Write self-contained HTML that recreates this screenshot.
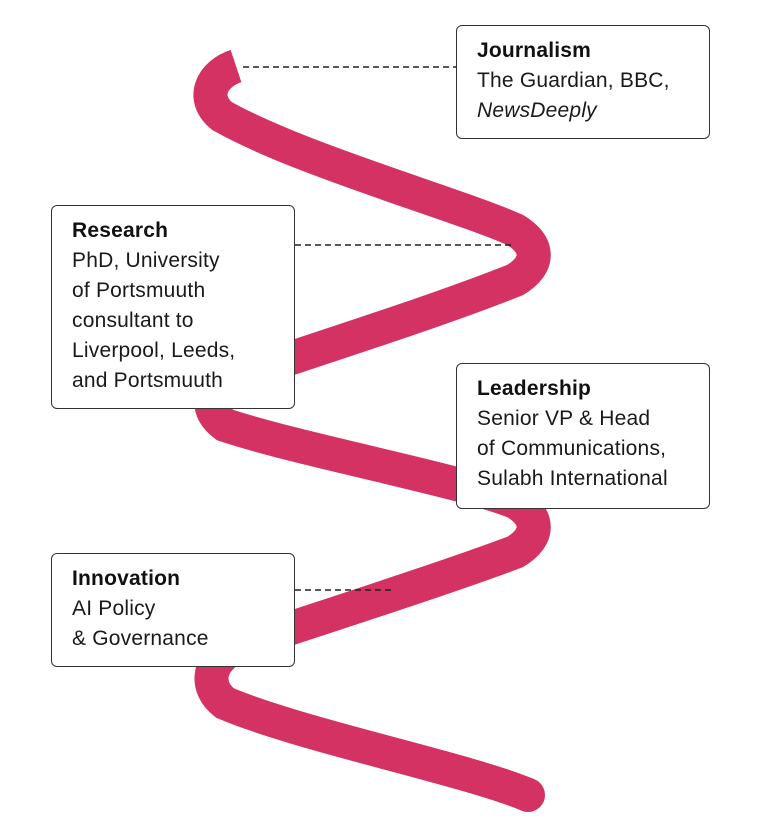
<!DOCTYPE html>
<html><head><meta charset="utf-8"><style>
html,body{margin:0;padding:0;background:#fff;}
body{width:768px;height:832px;position:relative;overflow:hidden;font-family:"Liberation Sans",sans-serif;}
svg{position:absolute;left:0;top:0;}
.box{position:absolute;background:#fff;border:1.5px solid #333;border-radius:6px;box-sizing:border-box;padding:10px 0 0 20px;font-size:21px;line-height:30px;color:#1a1a1a;letter-spacing:0.2px;white-space:nowrap;}
.box b{font-weight:bold;color:#111;}
</style></head><body>
<svg width="768" height="832" viewBox="0 0 768 832">
<path d="M236,66 C212,74 200,98 222,116 C300,160 460,205 515,230 C540,245 540,265 515,280 C440,310 330,345 240,375 C205,390 205,410 225,425 C300,450 460,480 515,502 C540,517 540,537 515,552 C440,580 330,615 240,645 C205,660 205,688 225,703 C300,735 470,770 528,795" fill="none" stroke="#d43263" stroke-width="34" stroke-linecap="butt"/>
<circle cx="528" cy="795" r="17" fill="#d43263"/>
<g stroke="#222" stroke-width="1.6" stroke-dasharray="6,4">
<line x1="243" y1="67" x2="456" y2="67"/>
<line x1="295" y1="245" x2="515" y2="245"/>
<line x1="295" y1="590" x2="395" y2="590"/>
</g>
</svg>
<div class="box" style="left:456px;top:25px;width:254px;height:114px;"><b>Journalism</b><br>The Guardian, BBC,<br><i>NewsDeeply</i></div>
<div class="box" style="left:51px;top:205px;width:244px;height:204px;"><b>Research</b><br>PhD, University<br>of Portsmuuth<br>consultant to<br>Liverpool, Leeds,<br>and Portsmuuth</div>
<div class="box" style="left:456px;top:363px;width:254px;height:146px;"><b>Leadership</b><br>Senior VP &amp; Head<br>of Communications,<br>Sulabh International</div>
<div class="box" style="left:51px;top:553px;width:244px;height:114px;"><b>Innovation</b><br>AI Policy<br>&amp; Governance</div>
</body></html>
